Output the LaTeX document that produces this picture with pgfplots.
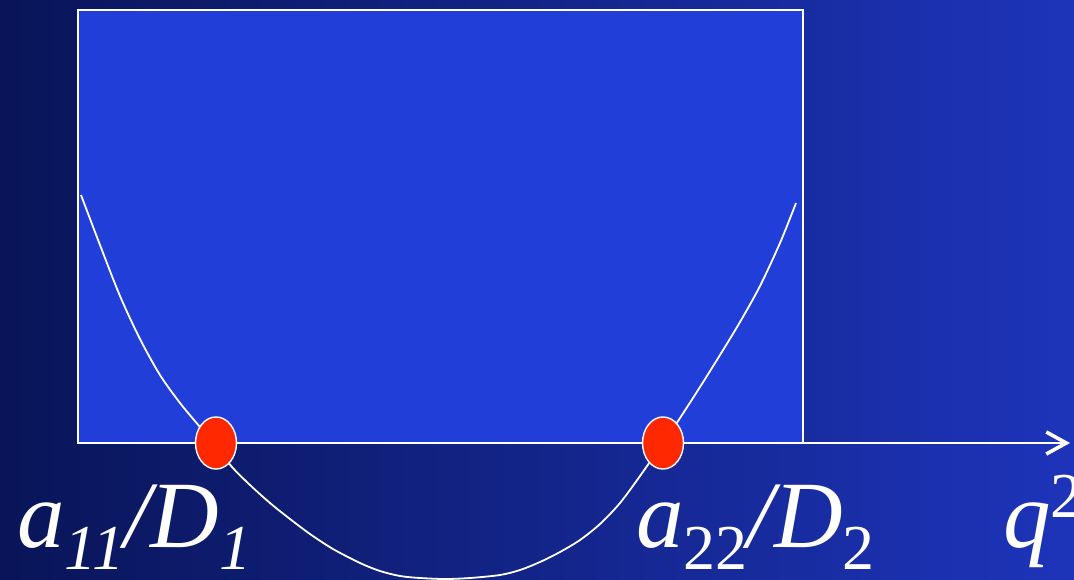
\documentclass[border=0pt]{standalone}
\usepackage{pgfplots}
\pgfplotsset{compat=1.18}
\usetikzlibrary{arrows.meta}
\usepackage{fontspec}
\setmainfont{Liberation Serif}

\definecolor{bgleft}{RGB}{9,21,88}
\definecolor{bgright}{RGB}{29,52,186}
\definecolor{boxblue}{RGB}{33,63,216}
\definecolor{dotred}{RGB}{255,40,0}

\newcommand{\bigsize}{\fontsize{47.5}{50}\selectfont}
\newcommand{\smallsize}{\fontsize{32}{34}\selectfont}

\begin{document}
\begin{tikzpicture}
\clip (0,0) rectangle (537pt,289.5pt);
\begin{axis}[
  at={(0,0)}, anchor=south west,
  width=537pt, height=289.5pt, scale only axis,
  xmin=0, xmax=1074, ymin=-136, ymax=443,
  axis lines=none, clip=false,
]
% background
\fill[left color=bgleft, right color=bgright]
  (axis cs:0,-136) rectangle (axis cs:1074,443);

% window above the axis
\addplot[draw=white, line width=1pt, fill=boxblue]
  coordinates {(78,0) (78,433) (803,433) (803,0)} --cycle;

% q^2 axis
\addplot[white, line width=1pt, -{Straight Barb[length=10pt,width=11pt,line width=1.8pt]}]
  coordinates {(78,0) (1070,0)};

% dispersion curve
\addplot[white, line width=0.9pt, smooth, tension=0.5]
  coordinates {
    (81,248) (100,198) (120,147) (140,104) (160,68) (180,40) (200,16)
    (216,-3) (232,-24) (250,-42) (270,-60) (290,-76) (310,-91) (333,-106)
    (360,-120) (380,-128) (400,-133) (420,-135) (445,-136) (470,-135)
    (500,-132) (520,-127) (540,-119) (560,-109) (580,-97) (600,-81)
    (620,-60) (640,-33) (663,0) (680,25) (700,56) (720,88) (740,121)
    (760,157) (780,200) (796,240)
  };

% zeros of the curve
\addplot[only marks, mark=*, mark size=10.25pt,
  mark options={fill=dotred, draw=white, line width=0.7pt, yscale=1.27}]
  coordinates {(216,0) (663,0)};

% labels
\node[anchor=base west, inner sep=0, white] at (axis cs:17,-104)
  {\bigsize\itshape a\raisebox{-11pt}{\smallsize 11}/D\raisebox{-11pt}{\smallsize 1}};
\node[anchor=base west, inner sep=0, white] at (axis cs:636,-104)
  {\bigsize\itshape a\raisebox{-11pt}{\smallsize\upshape 22}/D\raisebox{-11pt}{\smallsize\upshape 2}};
\node[anchor=base west, inner sep=0, white] at (axis cs:1003,-104)
  {\bigsize\itshape q\raisebox{15pt}{\smallsize\upshape 2}};
\end{axis}
\end{tikzpicture}
\end{document}
